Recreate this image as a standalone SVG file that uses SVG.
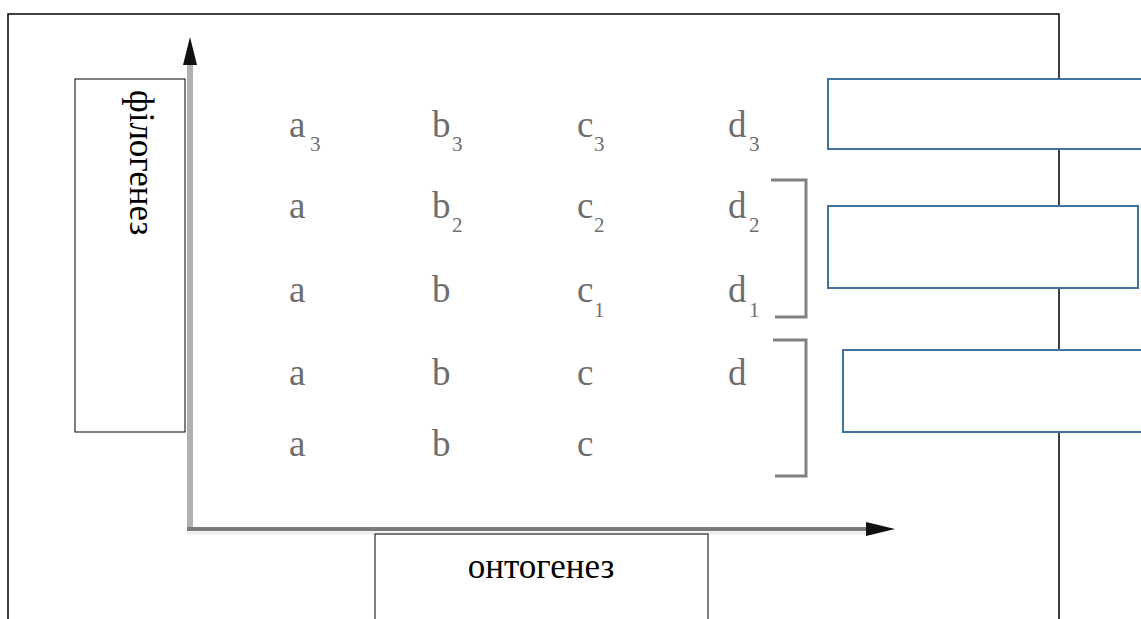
<svg xmlns="http://www.w3.org/2000/svg" width="1141" height="619" viewBox="0 0 1141 619">
<style>
.frame{fill:none;stroke:#000;stroke-width:1.5}
.lbox{fill:#fff;stroke:#000;stroke-width:1}
.bbox{fill:#fff;stroke:#41719C;stroke-width:2}
.lbl{font-family:"Liberation Serif","Times New Roman",serif;font-size:35px;fill:#000}
.g{font-family:"Liberation Serif","Times New Roman",serif;font-size:37px;fill:#6e6e6e}
.s{font-size:21px}
.br{fill:none;stroke:#808080;stroke-width:3}
.axv{stroke:#b0b0b0;stroke-width:6}
.axh{stroke:#7a7a7a;stroke-width:4}
</style>
<defs>
<marker id="ah" viewBox="0 0 10 10" refX="10" refY="5" markerWidth="10" markerHeight="10" markerUnits="userSpaceOnUse" orient="auto">
<path d="M0,0 L10,5 L0,10 z" fill="#111"/>
</marker>
</defs>
<rect width="1141" height="619" fill="#fff"/>
<g id="frame">
<path class="frame" d="M8,619 V14 H1059 V619"/>
</g>
<g id="connectors">
<line class="axv" x1="190" y1="531" x2="190" y2="62"/>
<path d="M190,37 L197,65 L183,65 z" fill="#111"/>
<line class="axh" x1="187" y1="529" x2="868" y2="529"/>
<line x1="187" y1="533" x2="868" y2="533" stroke="#eeeeee" stroke-width="3"/>
<path d="M895,529 L866,522 L866,536 z" fill="#111"/>
</g>
<g id="node-phylogenesis">
<rect class="lbox" x="75" y="79" width="110" height="353"/>
<text class="lbl" transform="translate(130,90) rotate(90)">філогенез</text>
</g>
<g id="node-ontogenesis">
<rect class="lbox" x="375" y="534" width="333" height="100"/>
<text class="lbl" x="541" y="578" text-anchor="middle">онтогенез</text>
</g>
<g id="grid">
<text class="g" x="289" y="137">a<tspan class="s" x="310" dy="14">3</tspan></text>
<text class="g" x="432" y="137">b<tspan class="s" x="452" dy="14">3</tspan></text>
<text class="g" x="577" y="137">c<tspan class="s" x="594" dy="14">3</tspan></text>
<text class="g" x="728" y="137">d<tspan class="s" x="749" dy="14">3</tspan></text>
<text class="g" x="289" y="218">a</text>
<text class="g" x="432" y="218">b<tspan class="s" x="452" dy="14">2</tspan></text>
<text class="g" x="577" y="218">c<tspan class="s" x="594" dy="14">2</tspan></text>
<text class="g" x="728" y="218">d<tspan class="s" x="749" dy="14">2</tspan></text>
<text class="g" x="289" y="302">a</text>
<text class="g" x="432" y="302">b</text>
<text class="g" x="577" y="302">c<tspan class="s" x="594" dy="15">1</tspan></text>
<text class="g" x="728" y="302">d<tspan class="s" x="749" dy="15">1</tspan></text>
<text class="g" x="289" y="385">a</text>
<text class="g" x="432" y="385">b</text>
<text class="g" x="577" y="385">c</text>
<text class="g" x="728" y="385">d</text>
<text class="g" x="289" y="456">a</text>
<text class="g" x="432" y="456">b</text>
<text class="g" x="577" y="456">c</text>
</g>
<g id="brackets">
<path class="br" d="M771,180 H806 V317 H775"/>
<path class="br" d="M773,340 H806 V476 H775"/>
</g>
<g id="node-box1">
<rect class="bbox" x="828" y="79" width="330" height="70"/>
</g>
<g id="node-box2">
<rect class="bbox" x="828" y="206" width="310" height="82"/>
</g>
<g id="node-box3">
<rect class="bbox" x="843" y="350" width="320" height="82"/>
</g>
</svg>
